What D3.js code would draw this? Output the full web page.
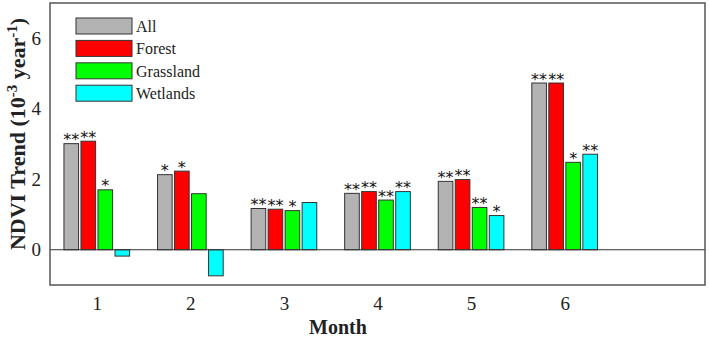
<!DOCTYPE html>
<html lang="en">
<head>
<meta charset="utf-8">
<title>NDVI Trend by Month</title>
<script src="https://cdn.jsdelivr.net/npm/d3@7/dist/d3.min.js"></script>
<style>
  body { margin: 0; background: #fff; }
  svg text { font-family: "Liberation Serif", "Times New Roman", serif; fill: #222; }
</style>
</head>
<body>
<div id="chart"></div>
<script>
// data
var months = [1, 2, 3, 4, 5, 6];
var seriesNames = ["All", "Forest", "Grassland", "Wetlands"];
var seriesColors = ["#b3b3b3", "#ff0000", "#00ff00", "#00ffff"];
var allVals = [3.01, 2.13, 1.17, 1.60, 1.94, 4.73];
var forestVals = [3.08, 2.23, 1.15, 1.65, 1.99, 4.73];
var grassVals = [1.70, 1.59, 1.11, 1.41, 1.20, 2.48];
var wetVals = [-0.18, -0.74, 1.34, 1.65, 0.97, 2.71];
// significance marks per series, per month
var allSig = ["**", "*", "**", "**", "**", "**"];
var forestSig = ["**", "*", "**", "**", "**", "**"];
var grassSig = ["*", "", "*", "**", "**", "*"];
var wetSig = ["", "", "", "**", "*", "**"];
var yTicks = [0, 2, 4, 6];

var values = [allVals, forestVals, grassVals, wetVals];
var sigs = [allSig, forestSig, grassSig, wetSig];

var W = 709, H = 337;
// plot box (don't use "top" - clashes with window.top)
var pL = 50, pR = 705, pT = 3, pB = 285;

var svg = d3.select("#chart").append("svg")
  .attr("width", W).attr("height", H);

var x = d3.scaleLinear().domain([0.5, 7.5]).range([pL, pR]);
var y = d3.scaleLinear().domain([-1, 7]).range([pB, pT]);

// grouped bars, MATLAB-like group width
var groupW = 4 / 5.5;
var slot = groupW / 4;
var barW = slot * 0.86;

var bars = [];
values.forEach(function(vals, s) {
  vals.forEach(function(v, m) {
    bars.push({ s: s, m: months[m], v: v, sig: sigs[s][m] });
  });
});

var barX = function(d) { return x(d.m - groupW / 2 + slot * d.s + (slot - barW) / 2); };
var bw = x(barW) - x(0);

svg.append("g").selectAll("rect")
  .data(bars).enter().append("rect")
  .attr("x", barX)
  .attr("y", function(d) { return y(Math.max(0, d.v)); })
  .attr("width", bw)
  .attr("height", function(d) { return Math.abs(y(d.v) - y(0)); })
  .attr("fill", function(d) { return seriesColors[d.s]; })
  .attr("stroke", "#333")
  .attr("stroke-width", 1);

// significance stars
svg.append("g").selectAll("text")
  .data(bars.filter(function(d) { return d.sig; })).enter().append("text")
  .attr("x", function(d) { return barX(d) + bw / 2; })
  .attr("y", function(d) { return y(d.v) + 1.5; })
  .attr("text-anchor", "middle")
  .style("font-family", "DejaVu Sans, sans-serif")
  .style("font-size", "16px")
  .style("fill", "#111")
  .text(function(d) { return d.sig; });

// zero line
svg.append("line")
  .attr("x1", pL).attr("x2", pR)
  .attr("y1", y(0)).attr("y2", y(0))
  .attr("stroke", "#333").attr("stroke-width", 1);

// frame
svg.append("rect")
  .attr("x", pL).attr("y", pT)
  .attr("width", pR - pL).attr("height", pB - pT)
  .attr("fill", "none").attr("stroke", "#555").attr("stroke-width", 1.5);

// axes
var yAxis = svg.append("g")
  .attr("transform", "translate(" + pL + ",0)")
  .call(d3.axisLeft(y).tickValues(yTicks).tickSize(0).tickPadding(9));
yAxis.select(".domain").remove();
yAxis.selectAll("text").style("font-size", "19px");

var xAxis = svg.append("g")
  .attr("transform", "translate(0," + pB + ")")
  .call(d3.axisBottom(x).tickValues(months).tickFormat(d3.format("d")).tickSize(0).tickPadding(12));
xAxis.select(".domain").remove();
xAxis.selectAll("text").style("font-size", "19px");

// axis titles
svg.append("text")
  .attr("x", 338).attr("y", 334)
  .attr("text-anchor", "middle")
  .style("font-size", "20px").style("font-weight", "bold")
  .text("Month");

var yl = svg.append("text")
  .attr("transform", "translate(25,134) rotate(-90)")
  .attr("text-anchor", "middle")
  .style("font-size", "22px").style("font-weight", "bold");
yl.append("tspan").text("NDVI Trend (10");
yl.append("tspan").attr("dy", -8).style("font-size", "15px").text("-3");
yl.append("tspan").attr("dy", 8).text(" year");
yl.append("tspan").attr("dy", -8).style("font-size", "15px").text("-1");
yl.append("tspan").attr("dy", 8).text(")");

// legend
var leg = svg.append("g").attr("transform", "translate(76,18)");
var rowH = 22.4;
seriesNames.forEach(function(name, i) {
  leg.append("rect")
    .attr("x", 0).attr("y", i * rowH)
    .attr("width", 56).attr("height", 16)
    .attr("fill", seriesColors[i])
    .attr("stroke", "#333").attr("stroke-width", 1);
  leg.append("text")
    .attr("x", 60).attr("y", i * rowH + 14)
    .style("font-size", "16px")
    .text(name);
});
</script>
</body>
</html>
